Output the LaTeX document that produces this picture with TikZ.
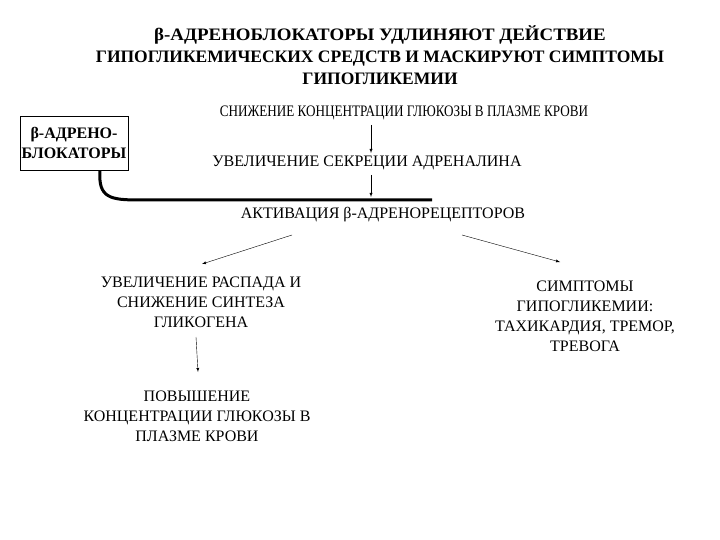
\documentclass[tikz,border=0pt]{standalone}
\usepackage{fontspec}
\usepackage{graphicx}
\setmainfont{Liberation Serif}
\usetikzlibrary{arrows,positioning}

\begin{document}
\begin{tikzpicture}[x=1pt, y=-1pt, txt/.style={font=\fontsize{16}{20}\selectfont, align=center, inner sep=1pt}, ttl/.style={font=\bfseries\fontsize{17.5}{22}\selectfont, align=center, inner sep=1pt}, arr/.style={-latex, thin}]
\useasboundingbox (0,0) rectangle (720,540);
%title
\node[ttl] (title) at (380,55) {\scalebox{1.08}[1]{β-АДРЕНОБЛОКАТОРЫ УДЛИНЯЮТ ДЕЙСТВИЕ}\\ГИПОГЛИКЕМИЧЕСКИХ СРЕДСТВ И МАСКИРУЮТ СИМПТОМЫ\\ГИПОГЛИКЕМИИ};
%blocker box
\node[draw, thick, font=\bfseries\fontsize{16}{20}\selectfont, align=center, minimum width=108pt, minimum height=54pt, inner sep=1pt] (blk) at (74,143) {β-АДРЕНО-\\БЛОКАТОРЫ};
%chain
\node[txt] (low) at (404,113) {\scalebox{0.82}[1]{СНИЖЕНИЕ КОНЦЕНТРАЦИИ ГЛЮКОЗЫ В ПЛАЗМЕ КРОВИ}};
\node[txt] (adr) at (367,163) {УВЕЛИЧЕНИЕ СЕКРЕЦИИ АДРЕНАЛИНА};
\node[txt] (act) at (383,215) {АКТИВАЦИЯ β-АДРЕНОРЕЦЕПТОРОВ};
\node[txt] (glyc) at (201,302) {УВЕЛИЧЕНИЕ РАСПАДА И\\СНИЖЕНИЕ СИНТЕЗА\\ГЛИКОГЕНА};
\node[txt] (symp) at (585,316) {СИМПТОМЫ\\ГИПОГЛИКЕМИИ:\\ТАХИКАРДИЯ, ТРЕМОР,\\ТРЕВОГА\hspace{8pt}};
\node[txt] (high) at (197,416) {ПОВЫШЕНИЕ\\КОНЦЕНТРАЦИИ ГЛЮКОЗЫ В\\ПЛАЗМЕ КРОВИ};
%arrows
\coordinate (a1) at (371,125); \coordinate (a2) at (371,153);
\coordinate (b1) at (371,175); \coordinate (b2) at (371,197);
\draw[arr] (a1) -- (a2);
\draw[arr] (b1) -- (b2);
\coordinate (c1) at (292,235); \coordinate (c2) at (202,264);
\coordinate (d1) at (462,235); \coordinate (d2) at (560,262);
\draw[arr] (c1) -- (c2);
\draw[arr] (d1) -- (d2);
\coordinate (e1) at (196,337); \coordinate (e2) at (198,372);
\draw[arr] (e1) -- (e2);
%blocking line
\coordinate (stop) at (432,200);
\draw[line width=3pt] (blk.south -| 100,0) .. controls (98,198) and (110,200) .. (140,200) -- (stop);
\end{tikzpicture}
\end{document}
